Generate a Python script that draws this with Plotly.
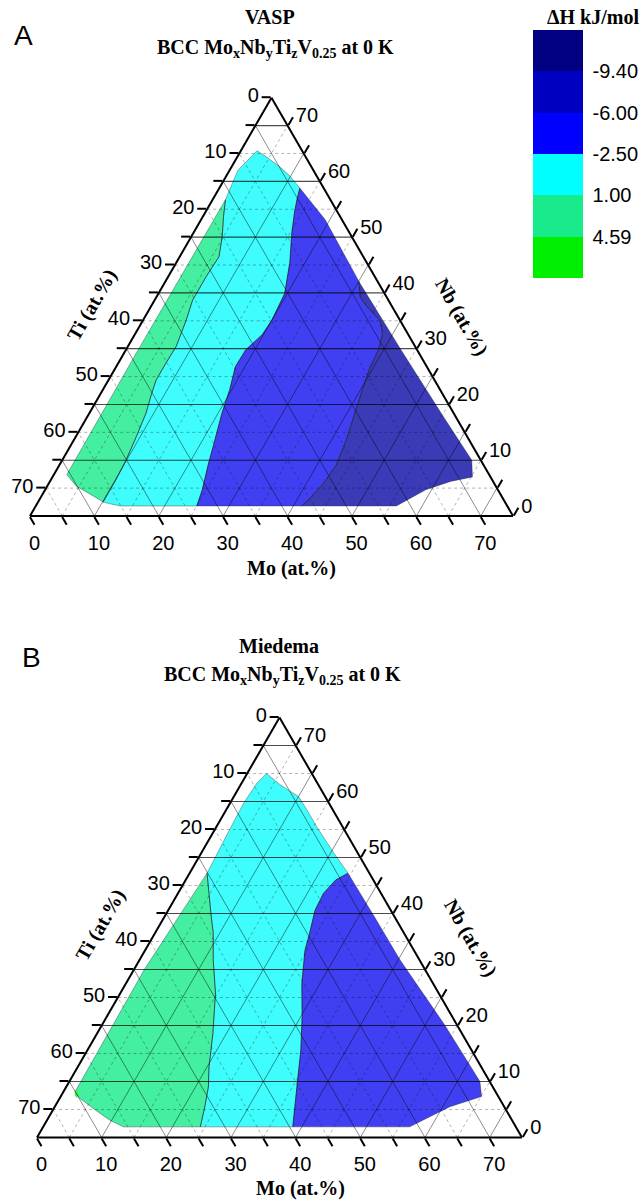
import plotly.graph_objects as go

SUM = 75  # Mo + Nb + Ti (at.%), V fixed at 25 at.%

# ---- axis ticks (at.%) ----
TICKS = [0, 5, 10, 15, 20, 25, 30, 35, 40, 45, 50, 55, 60, 65, 70]
GRID_MAJOR = [10, 20, 30, 40, 50, 60, 70]          # Nb and Mo solid lines
GRID_MAJOR_TI = [5, 15, 25, 35, 45, 55, 65]         # Ti solid lines
GRID_MINOR = [5, 15, 25, 35, 45, 55, 65]            # Nb and Mo dotted lines
GRID_MINOR_TI = [10, 20, 30, 40, 50, 60, 70]        # Ti dotted lines

# ---- colour levels (dH, kJ/mol) ----
LEVELS = [-9.40, -6.00, -2.50, 1.00, 4.59]
BAND_COLORS = ["#000080", "#0000C0", "#0000FF", "#00FFFF", "#19EB8C", "#00EE00"]

# ---- Panel A (VASP): contour regions as (Mo, Nb) pairs; Ti = 75 - Mo - Nb ----
A_HULL = [
    (2.5, 65.5), (4.5, 64.4), (7.5, 62.6), (9.7, 61.1), (12.5, 58.8),
    (19.3, 53.1), (30.1, 42.0), (42.5, 30.0), (55.3, 17.8), (63.6, 10.0),
    (65.2, 7.0), (62.2, 6.2), (59.1, 4.7), (56.0, 1.8), (41.3, 1.8),
    (25.0, 1.8), (13.1, 1.8), (11.3, 2.2), (10.1, 2.5), (8.8, 3.2),
    (4.6, 5.3), (2.0, 7.4), (1.9, 30.0), (2.0, 56.7), (1.5, 60.3), (1.3, 62.0),
]
A_GREEN_CYAN = [(2.0, 56.7), (3.2, 53.7), (4.8, 50.1), (6.1, 46.5), (5.9, 42.9),
                (5.9, 38.7), (6.7, 35.1), (7.5, 30.4), (7.4, 27.4), (7.4, 24.4),
                (7.9, 22.0), (8.8, 18.4), (9.4, 14.2), (9.9, 10.0), (10.1, 6.5),
                (10.1, 2.5)]
A_CYAN_BLUE = [(12.5, 58.8), (13.1, 56.7), (13.9, 54.3), (15.3, 50.7), (17.6, 45.5),
               (19.6, 39.9), (20.0, 35.1), (19.8, 32.5), (18.6, 29.8), (18.5, 26.8),
               (19.7, 22.6), (20.6, 18.4), (21.9, 13.6), (23.1, 9.1), (24.4, 4.7),
               (25.0, 1.8)]
A_DEEP = [(30.1, 42.0), (31.6, 39.3), (33.6, 37.5), (36.8, 35.1), (38.5, 32.5),
          (39.2, 29.8), (39.5, 26.5), (40.3, 22.6), (41.3, 18.1), (42.3, 13.6),
          (43.0, 9.1), (42.6, 5.6), (41.9, 3.2), (41.3, 1.8)]

# ---- Panel B (Miedema) ----
B_HULL = [
    (3.0, 65.0), (6.1, 63.0), (8.3, 61.8), (10.0, 60.9), (12.5, 58.5),
    (15.5, 55.5), (20.5, 50.8), (24.5, 47.2), (33.1, 38.8), (40.3, 31.7),
    (53.0, 20.1), (63.5, 10.0), (65.1, 7.3), (61.1, 5.5), (56.7, 1.9),
    (38.6, 1.9), (24.3, 1.9), (12.4, 1.9), (9.7, 3.1), (7.6, 4.3),
    (3.1, 7.0), (1.8, 8.2), (1.6, 30.0), (2.7, 47.2), (2.3, 54.9), (2.1, 59.7), (2.35, 63.2),
]
B_GREEN_CYAN = [(2.7, 47.2), (4.8, 43.6), (6.9, 40.0), (9.0, 36.5), (11.4, 31.7),
                (14.7, 25.8), (17.9, 18.6), (20.3, 12.6), (22.0, 9.0), (23.2, 5.5),
                (24.3, 1.9)]
B_CYAN_BLUE = [(24.5, 47.2), (23.2, 46.0), (22.5, 43.6), (22.7, 40.6), (24.0, 36.2),
               (24.7, 33.5), (27.2, 27.5), (30.2, 21.6), (33.0, 15.6), (35.4, 9.7),
               (38.6, 1.9)]
B_HOT = [(1.7, 8.6), (2.5, 7.9), (2.7, 7.0), (2.0, 7.6)]

# ---- plot fill colours ----
FILL = {"green": "#45EFA2", "cyan": "#40FDFD", "blue": "#4040F2",
        "deep": "#3B3BB8", "hot": "#40FF40"}

SERIF = "Liberation Serif"
SANS = "Liberation Sans"


def arc(hull, i, j):
    out, k = [], i
    while True:
        out.append(hull[k])
        if k == j:
            break
        k = (k + 1) % len(hull)
    return out


def abc(points):
    nb = [p[1] if p else None for p in points]
    ti = [SUM - p[0] - p[1] if p else None for p in points]
    mo = [p[0] if p else None for p in points]
    return dict(a=nb, b=ti, c=mo)


def poly(points, color, sub):
    return go.Scatterternary(**abc(points), mode="lines", fill="toself", fillcolor=color,
                             line=dict(width=0, color=color), subplot=sub,
                             hoverinfo="skip", showlegend=False)


def curve(points, sub, color="rgba(20,20,20,0.85)", width=0.9):
    return go.Scatterternary(**abc(points), mode="lines", line=dict(width=width, color=color),
                             subplot=sub, hoverinfo="skip", showlegend=False)


def gridlines(nb_vals, mo_vals, ti_vals):
    pts = []
    for v in nb_vals:
        pts += [(0, v), (SUM - v, v), None]
    for v in mo_vals:
        pts += [(v, 0), (v, SUM - v), None]
    for v in ti_vals:
        pts += [(SUM - v, 0), (0, SUM - v), None]
    return pts


fig = go.Figure()

panels = [("ternary", A_HULL, A_GREEN_CYAN, A_CYAN_BLUE, A_DEEP, None),
          ("ternary2", B_HULL, B_GREEN_CYAN, B_CYAN_BLUE, None, B_HOT)]

for sub, h, gc, cb, deep, hot in panels:
    g0, g1 = h.index(gc[0]), h.index(gc[-1])
    c0, c1 = h.index(cb[0]), h.index(cb[-1])
    green = gc + arc(h, g1, g0)[1:-1]
    cyan = cb + arc(h, c1, g1)[1:] + gc[::-1][1:] + arc(h, g0, c0)[1:-1]
    fig.add_trace(poly(green, FILL["green"], sub))
    fig.add_trace(poly(cyan, FILL["cyan"], sub))
    if deep is not None:
        d0, d1 = h.index(deep[0]), h.index(deep[-1])
        blue = arc(h, c0, d0) + deep[1:] + arc(h, d1, c1)[1:] + cb[::-1][1:-1]
        dark = arc(h, d0, d1) + deep[::-1][1:-1]
        fig.add_trace(poly(blue, FILL["blue"], sub))
        fig.add_trace(poly(dark, FILL["deep"], sub))
    else:
        blue = arc(h, c0, c1) + cb[::-1][1:-1]
        fig.add_trace(poly(blue, FILL["blue"], sub))
    if hot is not None:
        fig.add_trace(poly(hot, FILL["hot"], sub))
    # grid
    fig.add_trace(curve(gridlines([], [], GRID_MINOR_TI) + gridlines(GRID_MINOR, GRID_MINOR, []),
                        sub, color="rgba(0,0,0,0.38)", width=0.8))
    fig.data[-1].line.dash = "dot"
    fig.add_trace(curve(gridlines([], GRID_MAJOR, GRID_MAJOR_TI), sub,
                        color="rgba(0,0,0,0.45)", width=1.0))
    fig.add_trace(curve(gridlines(GRID_MAJOR, [], []), sub,
                        color="rgba(0,0,0,0.7)", width=1.1))
    # contour lines
    fig.add_trace(curve(h + [h[0]], sub, color="rgba(30,30,30,0.45)", width=0.8))
    fig.add_trace(curve(gc, sub))
    fig.add_trace(curve(cb, sub))
    if deep is not None:
        fig.add_trace(curve(deep, sub))

# colour bar (reversed: lowest dH at top)
nb = len(BAND_COLORS)
cscale = []
for k in range(nb):
    col = BAND_COLORS[nb - 1 - k]
    cscale += [[k / nb, col], [(k + 1) / nb, col]]
fig.add_trace(go.Scatterternary(
    **abc(A_HULL), mode="markers", subplot="ternary", hoverinfo="skip", showlegend=False,
    marker=dict(color=[0] * len(A_HULL), cmin=0, cmax=nb, colorscale=cscale, opacity=0,
                showscale=True,
                colorbar=dict(x=533 / 642, xanchor="left", y=1 - 30 / 1200, yanchor="top",
                              len=248 / 1200, lenmode="fraction", thickness=50,
                              thicknessmode="pixels", outlinewidth=0, xpad=0, ypad=0,
                              tickmode="array",
                              tickvals=[nb - 1 - i for i in range(len(LEVELS))],
                              ticktext=[f"{v:.2f}" for v in LEVELS],
                              ticks="outside", ticklen=6, tickcolor="rgba(0,0,0,0)",
                              tickfont=dict(family=SANS, size=20, color="black")))))


def axis():
    return dict(title=dict(text=""), min=0, tickmode="array",
                tickvals=[SUM - v for v in TICKS],
                ticktext=[str(v) if v % 10 == 0 else "" for v in TICKS],
                ticks="outside", ticklen=9, tickwidth=1.5, tickcolor="black",
                showline=True, linecolor="black", linewidth=2, showgrid=False,
                tickfont=dict(family=SANS, size=20, color="black"), layer="above traces")


def tern(x0, x1, ybot, ytop):
    return dict(domain=dict(x=[x0 / 642, x1 / 642], y=[1 - ybot / 1200, 1 - ytop / 1200]),
                sum=SUM, bgcolor="white", aaxis=axis(), baxis=axis(), caxis=axis())


ann = []


def text(s, x, y, size=20, font=SERIF, angle=0, bold=True):
    ann.append(dict(text=f"<b>{s}</b>" if bold else s, x=x / 642, y=1 - y / 1200,
                    xref="paper", yref="paper", showarrow=False, textangle=angle,
                    xanchor="center", yanchor="middle",
                    font=dict(family=font, size=size, color="black")))


FORMULA = "BCC Mo<sub>x</sub>Nb<sub>y</sub>Ti<sub>z</sub>V<sub>0.25</sub> at 0 K"
text("A", 23.5, 35, size=28, font=SANS, bold=False)
text("VASP", 270.3, 17.5)
text(FORMULA, 275.4, 48)
text("Mo (at.%)", 291.8, 568.5)
text("Ti (at.%)", 92, 304, angle=-60)
text("Nb (at.%)", 462, 317, angle=60)
text("ΔH kJ/mol", 592.5, 17.5)

text("B", 31, 657, size=28, font=SANS, bold=False)
text("Miedema", 278.5, 645.5)
text(FORMULA, 282.5, 675.5)
text("Mo (at.%)", 300, 1188.7)
text("Ti (at.%)", 100, 925, angle=-60)
text("Nb (at.%)", 471, 938, angle=60)

fig.update_layout(width=642, height=1200, margin=dict(l=0, r=0, t=0, b=0),
                  paper_bgcolor="white", plot_bgcolor="white", showlegend=False,
                  ternary=tern(30, 513, 516, 97.7),
                  ternary2=tern(37, 522, 1137.5, 717.5),
                  annotations=ann)

fig.write_html("out.html")
